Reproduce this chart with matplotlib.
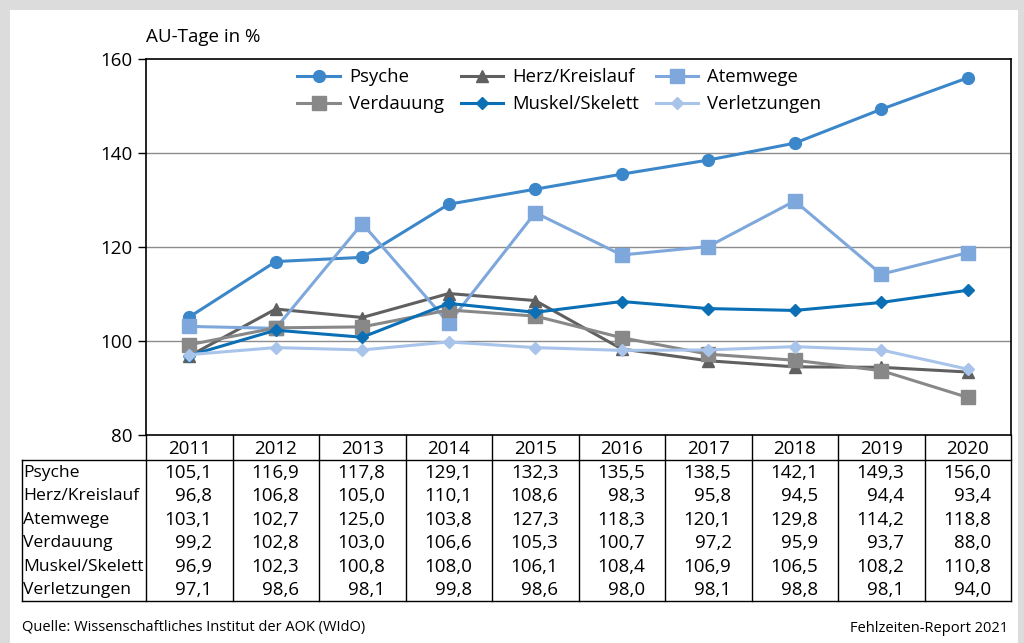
import numpy as np
import matplotlib.pyplot as plt
from matplotlib.patches import Rectangle

plt.rcParams['font.family'] = ['Open Sans', 'DejaVu Sans']

jahre = ["2011", "2012", "2013", "2014", "2015", "2016", "2017", "2018", "2019", "2020"]
psyche = [105.1, 116.9, 117.8, 129.1, 132.3, 135.5, 138.5, 142.1, 149.3, 156.0]
herz = [96.8, 106.8, 105.0, 110.1, 108.6, 98.3, 95.8, 94.5, 94.4, 93.4]
atemwege = [103.1, 102.7, 125.0, 103.8, 127.3, 118.3, 120.1, 129.8, 114.2, 118.8]
verdauung = [99.2, 102.8, 103.0, 106.6, 105.3, 100.7, 97.2, 95.9, 93.7, 88.0]
muskel = [96.9, 102.3, 100.8, 108.0, 106.1, 108.4, 106.9, 106.5, 108.2, 110.8]
verletzungen = [97.1, 98.6, 98.1, 99.8, 98.6, 98.0, 98.1, 98.8, 98.1, 94.0]

namen = ["Psyche", "Herz/Kreislauf", "Atemwege", "Verdauung", "Muskel/Skelett", "Verletzungen"]
werte = [psyche, herz, atemwege, verdauung, muskel, verletzungen]
farben = ["#3b87c9", "#606060", "#7ea8dc", "#888888", "#0a6fb5", "#a8c4ea"]
marker = ["o", "^", "s", "s", "D", "D"]
msize = [8.5, 8, 9.5, 9.5, 6, 6]

W, H = 1024, 643
fig = plt.figure(figsize=(W / 100, H / 100), dpi=100)
fig.patch.set_facecolor("#dcdcdc")

# weisser Hintergrund (Pixelkoordinaten)
bg = fig.add_axes([0, 0, 1, 1], zorder=0)
bg.set_xlim(0, W)
bg.set_ylim(H, 0)
bg.axis("off")
bg.add_patch(Rectangle((10, 10), 1008, 640, facecolor="white", edgecolor="none"))

L, R, T, B = 146, 1011, 59, 435
ax = fig.add_axes([L / W, 1 - B / H, (R - L) / W, (B - T) / H], zorder=1)
ax.patch.set_alpha(0)
x = np.arange(len(jahre))
lines = []
for n, v, c, m, s in zip(namen, werte, farben, marker, msize):
    ln, = ax.plot(x, v, color=c, marker=m, markersize=s, linewidth=2.2, label=n, zorder=3)
    lines.append(ln)

ax.set_xlim(-0.5, len(jahre) - 0.5)
ax.set_ylim(80, 160)
ax.set_yticks([80, 100, 120, 140, 160])
ax.tick_params(axis="y", direction="out", length=6, width=1, labelsize=13.5, pad=4)
ax.set_xticks([])
for yv in [100, 120, 140]:
    ax.axhline(yv, color="#8c8c8c", linewidth=1, zorder=1)
for sp in ax.spines.values():
    sp.set_color("black")
    sp.set_linewidth(1.2)
ax.spines["bottom"].set_visible(False)

ax.text(0, 1.035, "AU-Tage in %", transform=ax.transAxes, fontsize=13.5, ha="left", va="bottom")

order = [0, 3, 1, 4, 2, 5]
ax.legend([lines[i] for i in order], [namen[i] for i in order], ncol=3, frameon=False,
          loc="upper left", bbox_to_anchor=(0.16, 1.01), fontsize=13.3, handlelength=2.3,
          columnspacing=0.9, handletextpad=0.5, labelspacing=0.5, borderaxespad=0.3)

# Tabelle
tab = fig.add_axes([0, 0, 1, 1], zorder=2)
tab.set_xlim(0, W)
tab.set_ylim(H, 0)
tab.axis("off")
cw = (R - L) / len(jahre)
top_rows = 460
rh = (601 - top_rows) / len(namen)
lw = 1.0
tab.plot([L, R], [B, B], color="black", lw=1.2)
tab.plot([22, R], [top_rows, top_rows], color="black", lw=lw)
tab.plot([22, R], [601, 601], color="black", lw=lw)
tab.plot([22, 22], [top_rows, 601], color="black", lw=lw)
for i in range(len(jahre) + 1):
    tab.plot([L + i * cw, L + i * cw], [B, 601], color="black", lw=lw)
for i, j in enumerate(jahre):
    tab.text(L + (i + 0.5) * cw, (B + top_rows) / 2 + 1, j, ha="center", va="center", fontsize=13.5)
for r, (n, v) in enumerate(zip(namen, werte)):
    yc = top_rows + (r + 0.5) * rh + 1
    tab.text(23, yc, n, ha="left", va="center", fontsize=12.6)
    for i, val in enumerate(v):
        tab.text(L + (i + 1) * cw - 20, yc, f"{val:.1f}".replace(".", ","), ha="right", va="center", fontsize=13.5)

tab.text(22, 628, "Quelle: Wissenschaftliches Institut der AOK (WIdO)", ha="left", va="center", fontsize=10.5)
tab.text(1008, 628, "Fehlzeiten-Report 2021", ha="right", va="center", fontsize=10.5)

fig.savefig("out.png", dpi=100, facecolor=fig.get_facecolor())
